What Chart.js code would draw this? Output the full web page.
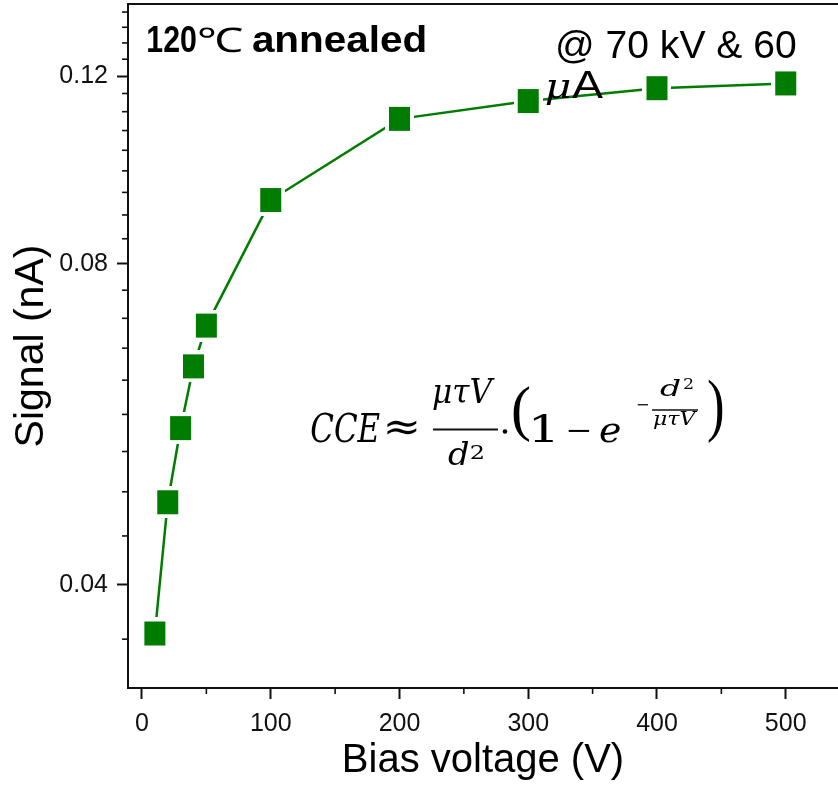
<!DOCTYPE html>
<html>
<head>
<meta charset="utf-8">
<script src="https://cdn.jsdelivr.net/npm/chart.js@4.4.1/dist/chart.umd.min.js"></script>
<style>
  html, body { margin: 0; padding: 0; background: #fff; overflow: hidden; }
</style>
</head>
<body>
<canvas id="myChart" width="838" height="789"></canvas>
<script>
// data
const biasVoltage = [10, 20, 30, 40, 50, 100, 200, 300, 400, 500];
const signalNA = [0.0360, 0.0478, 0.0561, 0.0641, 0.0700, 0.0918, 0.1094, 0.1137, 0.1169, 0.1181];

const xTicks = [0, 100, 200, 300, 400, 500];
const xMinorTicks = [50, 150, 250, 350, 450];
const yTicks = [0.04, 0.08, 0.12];
const yMinorTicks = [
  0.03556, 0.04444, 0.04889, 0.05333, 0.05778, 0.06222, 0.06667, 0.07111, 0.07556,
  0.08444, 0.08889, 0.09333, 0.09778, 0.10222, 0.10667, 0.11111, 0.11556,
  0.12444, 0.12889, 0.13333, 0.13778,
];

const green = "#007d00";
const ink = "#111";
const sans = '"Liberation Sans", Arial, sans-serif';
const serif = '"DejaVu Serif", "Liberation Serif", serif';
const thinSerif = '"Liberation Serif", serif';

// square marker with a white margin so the line stops short of it
const squareMark = document.createElement("canvas");
squareMark.width = 29;
squareMark.height = 32;
(() => {
  const c = squareMark.getContext("2d");
  c.fillStyle = "#fff";
  c.fillRect(0, 0, 29, 32);
  c.fillStyle = green;
  c.fillRect(4, 4, 21, 24);
})();

// text fitted to a width, left edge of the ink at x
function putText(ctx, txt, x, base, font, width) {
  ctx.font = font;
  const m = ctx.measureText(txt);
  const k = width ? width / (m.actualBoundingBoxLeft + m.actualBoundingBoxRight) : 1;
  ctx.save();
  ctx.translate(x + m.actualBoundingBoxLeft * k, base);
  ctx.scale(k, 1);
  ctx.fillText(txt, 0, 0);
  ctx.restore();
}

// text stretched into a box (brackets and symbols)
function boxText(ctx, txt, x0, y0, x1, y1, font) {
  ctx.font = font;
  const m = ctx.measureText(txt);
  const kx = (x1 - x0) / (m.actualBoundingBoxLeft + m.actualBoundingBoxRight);
  const ky = (y1 - y0) / (m.actualBoundingBoxAscent + m.actualBoundingBoxDescent);
  ctx.save();
  ctx.translate(x0 + m.actualBoundingBoxLeft * kx, y0 + m.actualBoundingBoxAscent * ky);
  ctx.scale(kx, ky);
  ctx.fillText(txt, 0, 0);
  ctx.restore();
}

function hline(ctx, x0, x1, y, w) {
  ctx.lineWidth = w;
  ctx.beginPath();
  ctx.moveTo(x0, y);
  ctx.lineTo(x1, y);
  ctx.stroke();
}

const extras = {
  id: "extras",
  afterDraw(chart) {
    const { ctx, chartArea, scales } = chart;
    ctx.save();
    ctx.strokeStyle = ink;
    ctx.fillStyle = ink;

    // top frame line
    hline(ctx, chartArea.left - 1, chartArea.right, chartArea.top, 2);

    // minor ticks
    ctx.lineWidth = 1.6;
    yMinorTicks.forEach((v) => {
      const y = scales.y.getPixelForValue(v);
      ctx.beginPath();
      ctx.moveTo(chartArea.left - 6, y);
      ctx.lineTo(chartArea.left, y);
      ctx.stroke();
    });
    xMinorTicks.forEach((v) => {
      const x = scales.x.getPixelForValue(v);
      ctx.beginPath();
      ctx.moveTo(x, chartArea.bottom);
      ctx.lineTo(x, chartArea.bottom + 6);
      ctx.stroke();
    });

    ctx.textAlign = "left";
    ctx.textBaseline = "alphabetic";
    ctx.fillStyle = "#000";

    // labels
    putText(ctx, "120", 148, 52, `bold 36px ${sans}`, 48);
    putText(ctx, "℃", 198, 52, `34px ${sans}`, 45);
    putText(ctx, "annealed", 253, 52, `bold 36px ${sans}`, 172);
    putText(ctx, "@ 70 kV & 60", 558, 58, `39px ${sans}`, 238);
    putText(ctx, "μ", 546, 98, `italic 36px ${serif}`, 24);
    putText(ctx, "A", 572, 98, `39px ${sans}`, 31);

    // formula
    putText(ctx, "CCE", 311, 442, `italic 40px ${serif}`, 69);
    boxText(ctx, "≈", 387, 420, 417, 435, `40px ${serif}`);
    putText(ctx, "μτV", 433, 403, `italic 33px ${serif}`, 62);
    hline(ctx, 433, 498, 429.5, 2);
    putText(ctx, "d", 448, 465, `italic 32px ${serif}`, 21);
    putText(ctx, "2", 471, 459, `18px ${serif}`, 12);
    ctx.beginPath();
    ctx.arc(505, 431.5, 2.3, 0, Math.PI * 2);
    ctx.fill();
    boxText(ctx, "(", 513, 385, 530, 442, `60px ${thinSerif}`);
    putText(ctx, "1", 533, 442, `38px ${serif}`, 20);
    boxText(ctx, "−", 568, 428.8, 590, 431.6, `37px ${serif}`);
    putText(ctx, "e", 600, 442, `italic 36px ${serif}`, 20);
    boxText(ctx, "−", 637, 403.5, 648, 405.5, `24px ${serif}`);
    putText(ctx, "d", 660, 396, `italic 22px ${serif}`, 21);
    putText(ctx, "2", 683, 389, `14px ${serif}`, 10);
    hline(ctx, 652, 698, 410, 1.5);
    putText(ctx, "μτV", 653, 425, `italic 19px ${serif}`, 45);
    boxText(ctx, ")", 708, 380, 723, 443, `60px ${thinSerif}`);

    ctx.restore();
  },
};

const ctx = document.getElementById("myChart").getContext("2d");

new Chart(ctx, {
  type: "line",
  data: {
    datasets: [
      {
        data: biasVoltage.map((v, i) => ({ x: v, y: signalNA[i] })),
        borderColor: green,
        borderWidth: 2.5,
        pointStyle: squareMark,
        pointRadius: 12,
        tension: 0,
      },
    ],
  },
  options: {
    responsive: false,
    animation: false,
    layout: { autoPadding: false, padding: { top: 4, right: 0, bottom: 0, left: 0 } },
    plugins: {
      legend: { display: false },
      tooltip: { enabled: false },
    },
    scales: {
      x: {
        type: "linear",
        min: -10.87,
        max: 540.6,
        afterBuildTicks: (s) => {
          s.ticks = xTicks.map((v) => ({ value: v }));
        },
        afterFit: (s) => {
          s.height = 101;
          s.paddingLeft = 0;
          s.paddingRight = 0;
        },
        grid: { drawOnChartArea: false, tickLength: 11, tickWidth: 2, tickColor: ink },
        border: { color: ink, width: 2 },
        ticks: {
          padding: 10,
          color: ink,
          font: { family: sans, size: 25 },
          callback: (v) => v,
        },
        title: {
          display: true,
          text: "Bias voltage (V)",
          color: "#000",
          font: { family: sans, size: 40 },
          padding: { top: 0, bottom: 4 },
        },
      },
      y: {
        type: "logarithmic",
        min: 0.032,
        max: 0.1402,
        afterBuildTicks: (s) => {
          s.ticks = yTicks.map((v) => ({ value: v }));
        },
        afterFit: (s) => {
          s.width = 128;
          s.paddingTop = 0;
          s.paddingBottom = 0;
        },
        grid: { drawOnChartArea: false, tickLength: 11, tickWidth: 2, tickColor: ink },
        border: { color: ink, width: 2 },
        ticks: {
          padding: 9,
          color: ink,
          font: { family: sans, size: 25 },
          callback: (v) => Number(v).toFixed(2),
        },
        title: {
          display: true,
          text: "Signal (nA)",
          color: "#000",
          font: { family: sans, size: 41 },
          padding: { top: 7, bottom: 0 },
        },
      },
    },
  },
  plugins: [extras],
});
</script>
</body>
</html>
